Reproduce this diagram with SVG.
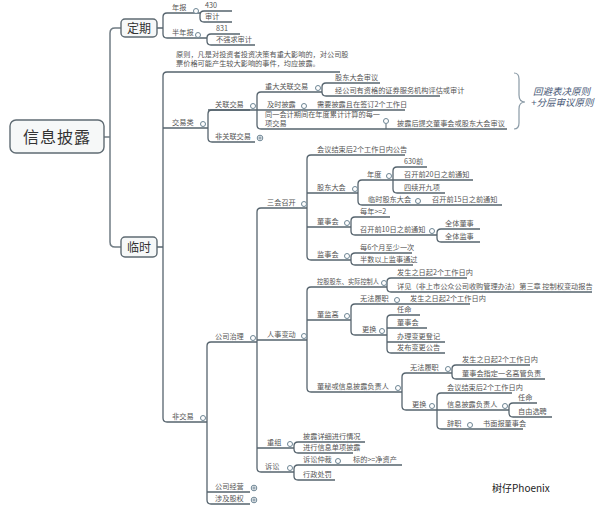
<svg xmlns="http://www.w3.org/2000/svg" width="600" height="505" viewBox="0 0 600 505">
<style>
.t{font-family:"Noto Sans CJK SC","Liberation Sans",sans-serif;font-size:7.2px;fill:#555}
.big{font-family:"Noto Sans CJK SC","Liberation Sans",sans-serif;fill:#333;text-anchor:middle}
.box{fill:#f6f8f8;stroke:#5f6b73;stroke-width:1.4}
.c{fill:#fff;stroke:#6d8594;stroke-width:1}
.p{stroke:#6d8594;stroke-width:0.9}
#connectors path{fill:none;stroke:#56646e;stroke-width:1.3}
.it{font-family:"Liberation Sans","Noto Sans CJK SC",sans-serif;font-size:9.5px;font-style:italic;fill:#4a5a78}
</style>
<rect width="600" height="505" fill="#fff"/>
<g id="connectors">
<path d="M104 137 H110 M121 28 H115 Q110 28 110 33 V242 Q110 247 115 247 H121" style="stroke:#707c84;stroke-width:1.5"/>
<path d="M157 28 H163 M196 13 H167 Q163 13 163 17 V34 Q163 38 167 38 H207"/>
<path d="M196 13 H200 M232 11 H204 Q200 11 200 15 V18 Q200 22 204 22 H232"/>
<path d="M240 34 H211 Q207 34 207 38 V41 Q207 45 211 45 H255"/>
<path d="M157 247 H163 M340 72 H167 Q163 72 163 76 V418 Q163 422 167 422 H207 M163 128 H208"/>
<path d="M250 110 H212 Q208 110 208 114 V138 Q208 142 212 142 H255"/>
<path d="M322 92 H261 Q257 92 257 96 V125 Q257 129 261 129 H507 M208 110 H405"/>
<path d="M380 83 H326 Q322 83 322 87 V92 Q322 96 326 96 H440"/>
<path d="M257 342 H211 Q207 342 207 346 V500 Q207 504 211 504 H250 M207 492 H250"/>
<path d="M307 208 H261 Q257 208 257 212 V468 Q257 472 261 472 H294 M257 340 H307 M257 448 H294"/>
<path d="M405 155 H311 Q307 155 307 159 V256 Q307 260 311 260 H351 M307 193 H358 M307 227 H351"/>
<path d="M393 180 H362 Q358 180 358 184 V201 Q358 205 362 205 H502"/>
<path d="M427 167 H397 Q393 167 393 171 V189 Q393 193 397 193 H445 M393 180 H473"/>
<path d="M390 217 H355 Q351 217 351 221 V231 Q351 235 355 235 H437"/>
<path d="M480 229 H441 Q437 229 437 233 V238 Q437 242 441 242 H480"/>
<path d="M412 253 H355 Q351 253 351 257 V261 Q351 265 355 265 H413"/>
<path d="M387 287 H311 Q307 287 307 291 V388 Q307 392 311 392 H402 M307 320 H351"/>
<path d="M467 278 H391 Q387 278 387 282 V288 Q387 292 391 292 H592"/>
<path d="M470 304 H355 Q351 304 351 308 V331 Q351 335 355 335 H387"/>
<path d="M420 315 H391 Q387 315 387 319 V349 Q387 353 391 353 H445 M387 328 H427 M387 342 H445"/>
<path d="M452 373 H406 Q402 373 402 377 V406 Q402 410 406 410 H509"/>
<path d="M530 365 H456 Q452 365 452 369 V375 Q452 379 456 379 H545"/>
<path d="M512 393 H441 Q437 393 437 397 V425 Q437 429 441 429 H523"/>
<path d="M537 403 H513 Q509 403 509 407 V413 Q509 417 513 417 H552"/>
<path d="M365 442 H298 Q294 442 294 446 V449 Q294 453 298 453 H353"/>
<path d="M402 465 H298 Q294 465 294 469 V476 Q294 480 298 480 H335"/>
<path d="M386 124 V129" style="stroke-width:1"/>
<path d="M514 73 Q519 73 519 79 V95 Q519 102 525 102 Q519 102 519 109 V123 Q519 129 514 129" style="stroke:#8a9aa6;stroke-width:1.2"/>
</g>
<g id="n-root"><rect class="box" x="10" y="120" width="94" height="33" rx="6"/><text class="big" x="57" y="143" font-size="16" letter-spacing="1">信息披露</text></g>
<g id="n-dingqi"><rect class="box" x="121" y="19" width="36" height="18" rx="4"/><text class="big" x="139" y="32.5" font-size="12">定期</text></g>
<g id="n-linshi"><rect class="box" x="121" y="237" width="36" height="20" rx="4"/><text class="big" x="139" y="251.5" font-size="12">临时</text></g>
<g id="n-nianbao"><text class="t" x="172" y="9.5">年报</text><circle class="c" cx="196" cy="11" r="2.5"/></g>
<g id="n-430"><text class="t" x="205" y="7.5">430</text></g>
<g id="n-shenji"><text class="t" x="205" y="18.5">审计</text></g>
<g id="n-bannianbao"><text class="t" x="172" y="34.5">半年报</text><circle class="c" cx="198" cy="35" r="2.5"/></g>
<g id="n-831"><text class="t" x="216" y="30.5">831</text></g>
<g id="n-buqiangqiu"><text class="t" x="216" y="41.5">不强求审计</text></g>
<g id="n-yuanze"><text class="t" x="176" y="57" font-size="7">原则，凡是对投资者投资决策有重大影响的，对公司股</text><text class="t" x="176" y="66" font-size="7">票价格可能产生较大影响的事件，均应披露。</text></g>
<g id="n-jiaoyilei"><text class="t" x="172" y="124.5">交易类</text><circle class="c" cx="203" cy="124" r="2.5"/></g>
<g id="n-guanlian"><text class="t" x="215" y="106.5">关联交易</text><circle class="c" cx="253" cy="106" r="2.5"/></g>
<g id="n-zhongda"><text class="t" x="265" y="88.5">重大关联交易</text><circle class="c" cx="318" cy="88" r="2.5"/></g>
<g id="n-gudong-shenyi"><text class="t" x="335" y="79.5">股东大会审议</text></g>
<g id="n-jingongsi"><text class="t" x="335" y="92.5">经公司有资格的证券服务机构评估或审计</text></g>
<g id="n-jishi"><text class="t" x="267" y="106.5">及时披露</text><circle class="c" cx="304" cy="106" r="2.5"/></g>
<g id="n-xuyao"><text class="t" x="317" y="106.5">需要披露且在签订2个工作日</text></g>
<g id="n-tongyi"><text class="t" x="265" y="116.5">同一会计期间在年度累计计算的每一</text><text class="t" x="265" y="125.5">项交易</text><circle class="c" cx="386" cy="121" r="2.5"/></g>
<g id="n-pilu-tijiao"><text class="t" x="397" y="125.5">披露后提交董事会或股东大会审议</text></g>
<g id="n-feiguanlian"><text class="t" x="215" y="138.5">非关联交易</text><circle class="c" cx="260" cy="138" r="2.8"/><path class="p" d="M258.2 138 H261.8 M260 136.2 V139.8"/></g>
<g id="n-brace-label"><text class="it" x="533" y="95">回避表决原则</text><text class="it" x="531" y="106">+分层审议原则</text></g>
<g id="n-feijiaoyi"><text class="t" x="172" y="418.5">非交易</text><circle class="c" cx="203" cy="418" r="2.5"/></g>
<g id="n-zhili"><text class="t" x="215" y="338.5">公司治理</text><circle class="c" cx="253" cy="338" r="2.5"/></g>
<g id="n-jingying"><text class="t" x="215" y="488.5">公司经营</text><circle class="c" cx="254" cy="488" r="2.8"/><path class="p" d="M252.2 488 H255.8 M254 486.2 V489.8"/></g>
<g id="n-guquan"><text class="t" x="215" y="500.5">涉及股权</text><circle class="c" cx="254" cy="500" r="2.8"/><path class="p" d="M252.2 500 H255.8 M254 498.2 V501.8"/></g>
<g id="n-sanhui"><text class="t" x="267" y="204.5">三会召开</text><circle class="c" cx="304" cy="204" r="2.5"/></g>
<g id="n-huiyi-gonggao"><text class="t" x="317" y="151.5">会议结束后2个工作日内公告</text></g>
<g id="n-gudongdahui"><text class="t" x="317" y="189.5">股东大会</text><circle class="c" cx="355" cy="189" r="2.5"/></g>
<g id="n-niandu"><text class="t" x="367" y="176.5">年度</text><circle class="c" cx="389" cy="176" r="2.5"/></g>
<g id="n-630"><text class="t" x="404" y="163.5">630前</text></g>
<g id="n-20ri"><text class="t" x="404" y="176.5">召开前20日之前通知</text></g>
<g id="n-sixu"><text class="t" x="404" y="189.5">四续开九项</text></g>
<g id="n-linshigudong"><text class="t" x="368" y="201.5">临时股东大会</text><circle class="c" cx="418" cy="201" r="2.5"/></g>
<g id="n-15ri"><text class="t" x="432" y="201.5">召开前15日之前通知</text></g>
<g id="n-dongshihui"><text class="t" x="317" y="223.5">董事会</text><circle class="c" cx="347" cy="223" r="2.5"/></g>
<g id="n-meinian"><text class="t" x="360" y="213.5">每年&gt;=2</text></g>
<g id="n-10ri"><text class="t" x="360" y="231.5">召开前10日之前通知</text><circle class="c" cx="432" cy="231" r="2.5"/></g>
<g id="n-quanti-dongshi"><text class="t" x="445" y="225.5">全体董事</text></g>
<g id="n-quanti-jianshi"><text class="t" x="445" y="238.5">全体监事</text></g>
<g id="n-jianshihui"><text class="t" x="317" y="256.5">监事会</text><circle class="c" cx="347" cy="256" r="2.5"/></g>
<g id="n-6yue"><text class="t" x="360" y="249.5">每6个月至少一次</text></g>
<g id="n-banshu"><text class="t" x="360" y="261.5">半数以上监事通过</text></g>
<g id="n-renshi"><text class="t" x="267" y="336.5">人事变动</text><circle class="c" cx="304" cy="336" r="2.5"/></g>
<g id="n-konggu"><text class="t" x="317" y="283.5" textLength="62" lengthAdjust="spacingAndGlyphs">控股股东、实际控制人</text><circle class="c" cx="384" cy="283" r="2.5"/></g>
<g id="n-fasheng1"><text class="t" x="397" y="274.5">发生之日起2个工作日内</text></g>
<g id="n-xiangjian"><text class="t" x="397" y="288.5">详见（非上市公众公司收购管理办法）第三章 控制权变动报告</text></g>
<g id="n-dongjiangao"><text class="t" x="317" y="316.5">董监高</text><circle class="c" cx="347" cy="316" r="2.5"/></g>
<g id="n-wufa1"><text class="t" x="360" y="300.5">无法履职</text><circle class="c" cx="397" cy="300" r="2.5"/></g>
<g id="n-fasheng2"><text class="t" x="410" y="300.5">发生之日起2个工作日内</text></g>
<g id="n-genghuan1"><text class="t" x="362" y="331.5">更换</text><circle class="c" cx="382" cy="331" r="2.5"/></g>
<g id="n-renming1"><text class="t" x="397" y="311.5">任命</text></g>
<g id="n-dongshihui2"><text class="t" x="397" y="324.5">董事会</text></g>
<g id="n-banli"><text class="t" x="397" y="338.5">办理变更登记</text></g>
<g id="n-fabu"><text class="t" x="397" y="349.5">发布变更公告</text></g>
<g id="n-dongmi"><text class="t" x="317" y="388.5">董秘或信息披露负责人</text><circle class="c" cx="398" cy="388" r="2.5"/></g>
<g id="n-wufa2"><text class="t" x="410" y="369.5">无法履职</text><circle class="c" cx="448" cy="369" r="2.5"/></g>
<g id="n-fasheng3"><text class="t" x="462" y="361.5">发生之日起2个工作日内</text></g>
<g id="n-zhiding"><text class="t" x="462" y="375.5">董事会指定一名高管负责</text></g>
<g id="n-genghuan2"><text class="t" x="412" y="406.5">更换</text><circle class="c" cx="432" cy="406" r="2.5"/></g>
<g id="n-huiyi2"><text class="t" x="447" y="389.5">会议结束后2个工作日内</text></g>
<g id="n-xinxi"><text class="t" x="447" y="406.5">信息披露负责人</text><circle class="c" cx="505" cy="406" r="2.5"/></g>
<g id="n-renming2"><text class="t" x="518" y="399.5">任命</text></g>
<g id="n-ziyou"><text class="t" x="518" y="413.5">自由选聘</text></g>
<g id="n-cizhi"><text class="t" x="447" y="425.5">辞职</text><circle class="c" cx="470" cy="425" r="2.5"/></g>
<g id="n-shumian"><text class="t" x="483" y="425.5">书面报董事会</text></g>
<g id="n-chongzu"><text class="t" x="267" y="444.5">重组</text><circle class="c" cx="290" cy="444" r="2.5"/></g>
<g id="n-pilu-xiangxi"><text class="t" x="303" y="438.5">披露详细进行情况</text></g>
<g id="n-jinxing"><text class="t" x="303" y="449.5">进行信息单项披露</text></g>
<g id="n-susong"><text class="t" x="265" y="468.5">诉讼</text><circle class="c" cx="290" cy="468" r="2.5"/></g>
<g id="n-zhongcai"><text class="t" x="303" y="461.5">诉讼仲裁</text><circle class="c" cx="338" cy="461" r="2.5"/></g>
<g id="n-biaodi"><text class="t" x="353" y="461.5">标的&gt;=净资产</text></g>
<g id="n-xingzheng"><text class="t" x="303" y="476.5">行政处罚</text></g>
<g id="watermark"><text x="492" y="492" font-family="Noto Sans CJK SC, sans-serif" font-size="10" fill="#222">树仔Phoenix</text></g>
</svg>
